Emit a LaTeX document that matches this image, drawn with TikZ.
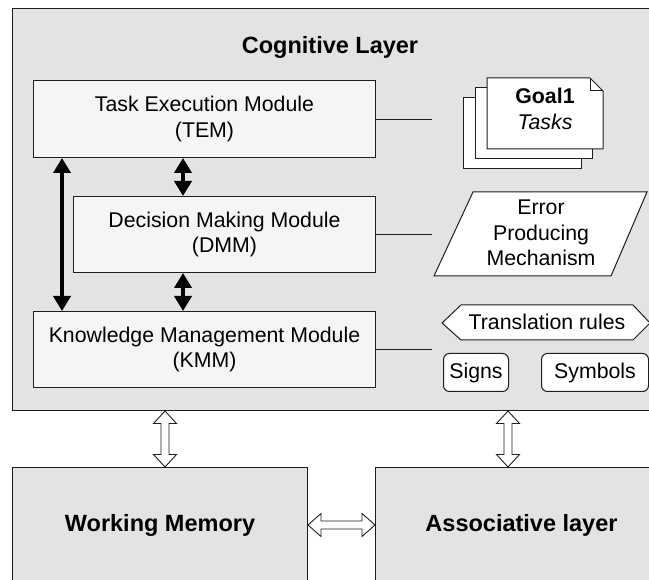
\documentclass[tikz,border=0pt]{standalone}
\usepackage{fontspec}
\setmainfont{Liberation Sans}
\usetikzlibrary{arrows.meta,calc}
\definecolor{laygray}{HTML}{E3E3E3}
\definecolor{modfill}{HTML}{F5F5F5}
\definecolor{edgecol}{HTML}{1E1E1E}
\newcommand\myHollowV[2]{%
  \draw[hollow] (#1) -- ($(#1)+(11.5,12.5)$) -- ($(#1)+(4,12.5)$) -- ($(#2)+(4,-12.5)$) -- ($(#2)+(11.5,-12.5)$) -- (#2)
    -- ($(#2)+(-11.5,-12.5)$) -- ($(#2)+(-4,-12.5)$) -- ($(#1)+(-4,12.5)$) -- ($(#1)+(-11.5,12.5)$) -- cycle;}
\newcommand\myHollowH[2]{%
  \draw[hollow] (#1) -- ($(#1)+(13,-11.5)$) -- ($(#1)+(13,-4)$) -- ($(#2)+(-13,-4)$) -- ($(#2)+(-13,-11.5)$) -- (#2)
    -- ($(#2)+(-13,11.5)$) -- ($(#2)+(-13,4)$) -- ($(#1)+(13,4)$) -- ($(#1)+(13,11.5)$) -- cycle;}
\begin{document}
\begin{tikzpicture}[x=1pt,y=-1pt,
  font=\fontsize{21.3}{25.5}\selectfont,
  every node/.style={inner sep=0pt, align=center},
  layer/.style={draw=edgecol, line width=1pt, fill=laygray},
  modbox/.style={draw=edgecol, line width=1pt, fill=modfill},
  whiteshape/.style={draw=edgecol, line width=1pt, fill=white},
  rbox/.style={draw=edgecol, line width=1pt, fill=white, rounded corners=6pt},
  thinline/.style={draw=edgecol, line width=0.8pt},
  blkarrow/.style={line width=4.5pt, black, {Triangle[length=15pt,width=17pt]}-{Triangle[length=15pt,width=17pt]}},
  hollow/.style={draw=edgecol, line width=0.9pt, fill=white, line join=miter},
  boldbig/.style={font=\fontsize{23.5}{28}\selectfont\bfseries}]
\useasboundingbox (0,0) rectangle (649,580);
\fill[white] (0,0) rectangle (649,580);
\clip (0,0) rectangle (649,580);

% cognitive layer
\node[layer, anchor=north west, minimum width=660pt, minimum height=402pt] (cog) at (12,8) {};
\node[boldbig] (cogtitle) at (330,47) {Cognitive Layer};

% modules
\node[modbox, anchor=north west, minimum width=342pt, minimum height=77pt] (tem) at (33,80) {Task Execution Module\\(TEM)};
\node[modbox, anchor=north west, minimum width=302pt, minimum height=76pt] (dmm) at (73,196) {Decision Making Module\\(DMM)};
\node[modbox, anchor=north west, minimum width=342pt, minimum height=76pt] (kmm) at (33,311) {Knowledge Management Module\\(KMM)};

% black arrows
\draw[blkarrow] ($(tem.south west)+(29,0)$) -- ($(kmm.north west)+(29,0)$);
\draw[blkarrow] ($(tem.south west)+(150,0)$) -- ($(dmm.north west)+(110,0)$);
\draw[blkarrow] ($(dmm.south west)+(110,0)$) -- ($(kmm.north west)+(150,0)$);

% connector ends
\coordinate (lend) at (432,0);
\draw[thinline] (tem.east) -- (tem.east -| lend);
\draw[thinline] (dmm.east) -- (dmm.east -| lend);
\draw[thinline] (kmm.east) -- (kmm.east -| lend);

% multi-document
\path[whiteshape] (463,98) rectangle (581,169);
\path[whiteshape] (475,88) rectangle (592,159);
\path[whiteshape] (487,78) -- (590,78) -- (603,91) -- (603,149) -- (487,149) -- cycle;
\draw[thinline, line width=1pt] (590,78) -- (590,91) -- (603,91);
\node (goal) at (545,109) {\textbf{Goal1}\\[1pt]\textit{Tasks}};

% parallelogram
\path[whiteshape] (473,192) -- (647,192) -- (611,276) -- (434,276) -- cycle;
\node (epm) at (541,233) {Error\\Producing\\Mechanism};

% hexagon
\path[whiteshape] (442,323) -- (461,305) -- (633,305) -- (650,323) -- (633,340) -- (461,340) -- cycle;
\node (trules) at (547,322) {Translation rules};

% signs / symbols
\node[rbox, anchor=north west, minimum width=65pt, minimum height=38pt] (signs) at (443,353) {Signs};
\node[rbox, anchor=north west, minimum width=107pt, minimum height=38pt] (symbols) at (541,353) {Symbols};

% bottom boxes
\node[layer, anchor=north west, minimum width=295pt, minimum height=116pt, boldbig] (wm) at (12,467) {Working Memory};
\node[layer, anchor=north west, minimum width=292pt, minimum height=116pt, boldbig] (assoc) at (375,467) {Associative layer};

% hollow arrows
\coordinate (h1a) at ($(cog.south west)+(153,0)$);
\coordinate (h1b) at ($(wm.north west)+(153,0)$);
\coordinate (h2a) at ($(cog.south west)+(496,0)$);
\coordinate (h2b) at ($(assoc.north west)+(133,0)$);
\coordinate (h3a) at ($(wm.north east)+(0,58)$);
\coordinate (h3b) at ($(assoc.north west)+(0,58)$);
\myHollowV{h1a}{h1b}
\myHollowV{h2a}{h2b}
\myHollowH{h3a}{h3b}
\end{tikzpicture}
\end{document}
